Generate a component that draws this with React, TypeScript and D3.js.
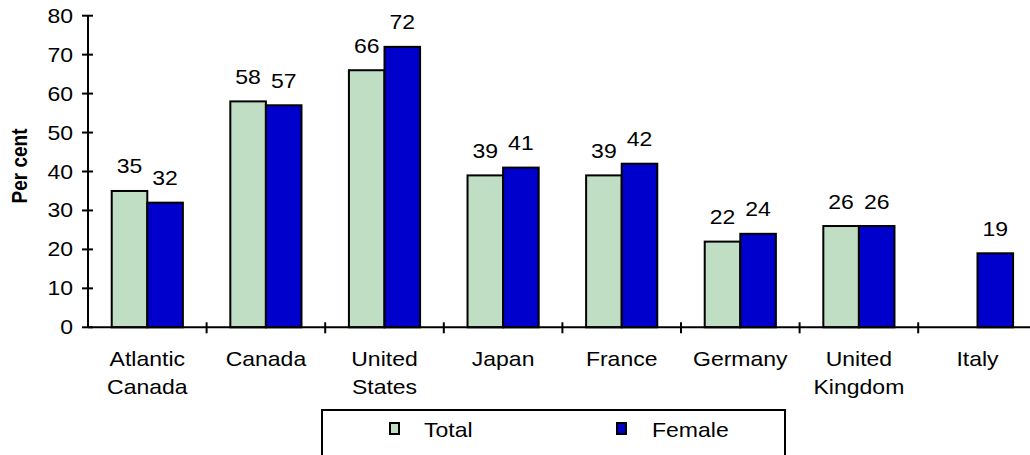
import React from "react";
import * as d3 from "d3";

const categories: string[] = ["Atlantic Canada", "Canada", "United States", "Japan", "France", "Germany", "United Kingdom", "Italy"];
const totalValues: (number | null)[] = [35, 58, 66, 39, 39, 22, 26, null];
const femaleValues: (number | null)[] = [32, 57, 72, 41, 42, 24, 26, 19];
const yTicks: number[] = [0, 10, 20, 30, 40, 50, 60, 70, 80];
const seriesNames: string[] = ["Total", "Female"];
const seriesColors: string[] = ["#C0DEC4", "#0000CC"];

const FONT = "'Liberation Sans', Arial, Helvetica, sans-serif";
const SX = 1.15;

export default function App() {
  const W = 1030;
  const H = 455;
  const x0 = 88;
  const step = 118.6;
  const x = d3
    .scaleBand<string>()
    .domain(categories)
    .range([x0, x0 + step * categories.length])
    .paddingInner(0.4)
    .paddingOuter(0.2);
  const y = d3.scaleLinear().domain([0, 80]).range([327.3, 15.7]);
  const inner = d3.scaleBand<number>().domain([0, 1]).range([0, x.bandwidth()]);
  const series = [totalValues, femaleValues];

  const stretchText = (
    tx: number,
    ty: number,
    content: string,
    anchor: string,
    key: string | number,
    size = 20
  ) => (
    <text
      key={key}
      transform={`translate(${tx},${ty}) scale(${SX},1)`}
      textAnchor={anchor}
      fontFamily={FONT}
      fontSize={size}
      fill="#000"
    >
      {content}
    </text>
  );

  const boundaries = d3.range(0, categories.length + 1).map((i) => x0 + i * x.step());

  return (
    <svg
      width={W}
      height={H}
      style={{ position: "absolute", left: 0, top: 0, background: "#fff" }}
    >
      <rect x={0} y={0} width={W} height={H} fill="#fff" />
      {/* bars */}
      {series.map((vals, si) =>
        categories.map((c, ci) => {
          const v = vals[ci];
          if (v == null) return null;
          const bx = (x(c) as number) + (inner(si) as number);
          const bw = inner.bandwidth();
          return (
            <rect
              key={`b-${si}-${ci}`}
              x={bx}
              y={y(v)}
              width={bw}
              height={y(0) - y(v)}
              fill={seriesColors[si]}
              stroke="#000"
              strokeWidth={2}
            />
          );
        })
      )}
      {/* value labels */}
      {series.map((vals, si) =>
        categories.map((c, ci) => {
          const v = vals[ci];
          if (v == null) return null;
          const cx = (x(c) as number) + (inner(si) as number) + inner.bandwidth() / 2;
          return stretchText(cx, y(v) - 17.5, String(v), "middle", `v-${si}-${ci}`);
        })
      )}
      {/* y axis */}
      <line x1={x0} x2={x0} y1={y(80)} y2={y(0)} stroke="#000" strokeWidth={2} />
      {yTicks.map((t) => (
        <g key={`yt-${t}`}>
          <line x1={x0 - 6} x2={x0 + 5} y1={y(t)} y2={y(t)} stroke="#000" strokeWidth={2} />
          {stretchText(73, y(t) + 7, String(t), "end", `ytl-${t}`)}
        </g>
      ))}
      {/* x axis */}
      <line x1={x0} x2={W} y1={y(0)} y2={y(0)} stroke="#000" strokeWidth={2} />
      {boundaries.slice(1).map((bx, i) => (
        <line key={`xt-${i}`} x1={bx} x2={bx} y1={y(0) - 5} y2={y(0) + 6} stroke="#000" strokeWidth={2} />
      ))}
      {categories.map((c) => {
        const cx = (x(c) as number) + x.bandwidth() / 2;
        return c
          .split(" ")
          .map((line, li) => stretchText(cx, 366 + li * 28, line, "middle", `xl-${c}-${li}`));
      })}
      {/* y label */}
      <text
        transform={`translate(27,166) scale(${SX},1) rotate(-90)`}
        textAnchor="middle"
        fontFamily={FONT}
        fontSize={19}
        fontWeight="bold"
        fill="#000"
      >
        Per cent
      </text>
      {/* legend */}
      <rect x={322} y={410} width={463} height={60} fill="#fff" stroke="#000" strokeWidth={2} />
      {seriesNames.map((n, i) => {
        const mx = i === 0 ? 390 : 617;
        const tx = i === 0 ? 424 : 652;
        return (
          <g key={`lg-${i}`}>
            <rect x={mx} y={423} width={9} height={11} fill={seriesColors[i]} stroke="#000" strokeWidth={2} />
            {stretchText(tx, 437, n, "start", `lt-${i}`)}
          </g>
        );
      })}
    </svg>
  );
}
